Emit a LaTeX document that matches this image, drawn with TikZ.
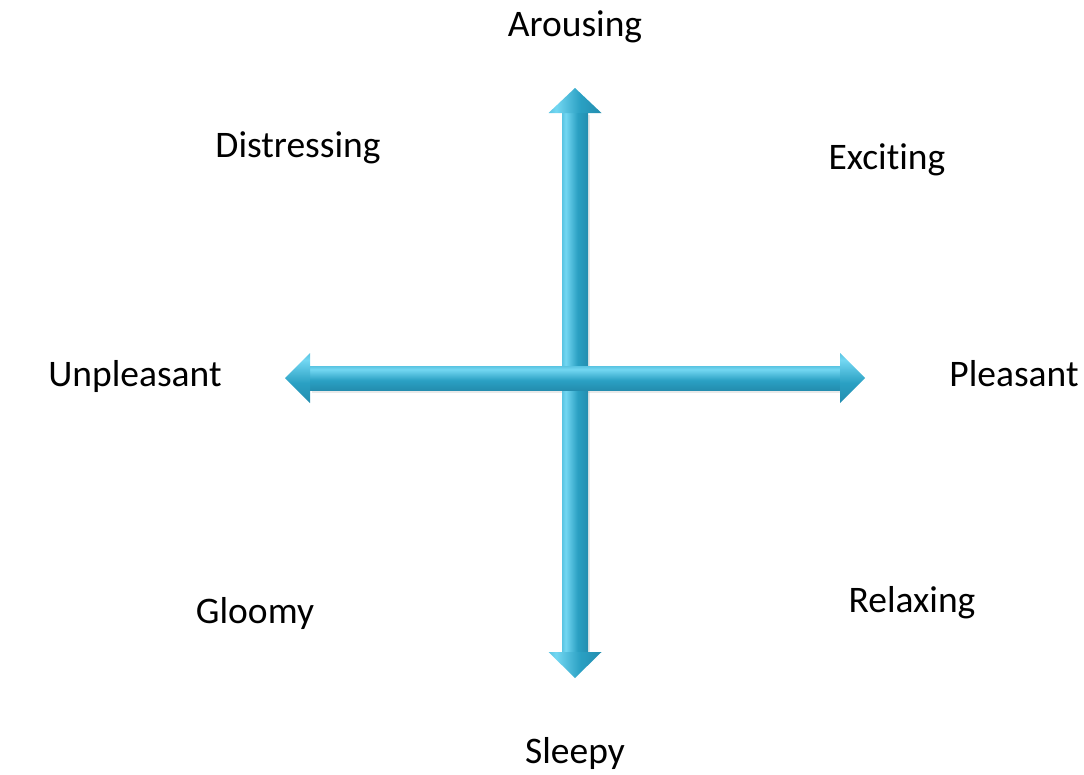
\documentclass[tikz,border=0pt]{standalone}
\usepackage{fontspec}
\setmainfont{Carlito}[Ligatures=NoCommon]
\usetikzlibrary{calc}
\definecolor{ashdark}{RGB}{18,88,115}
\definecolor{ashmid}{RGB}{42,160,195}
\definecolor{ashmid2}{RGB}{32,132,165}
\definecolor{ashlight}{RGB}{115,215,242}
\pgfdeclarehorizontalshading{vshaft}{100bp}{
  color(0bp)=(ashdark); color(12bp)=(ashmid); color(32bp)=(ashlight);
  color(55bp)=(ashmid); color(85bp)=(ashmid2); color(100bp)=(ashdark)}
\pgfdeclareverticalshading{hshaft}{100bp}{
  color(0bp)=(ashdark); color(15bp)=(ashmid2); color(45bp)=(ashmid);
  color(68bp)=(ashlight); color(88bp)=(ashmid); color(100bp)=(ashdark)}
\tikzset{
  lbl/.style={font=\fontsize{37.5}{45}\selectfont, anchor=base, inner sep=0pt},
  vpart/.style={shading=vshaft},
  hpart/.style={shading=hshaft},
  shadowpart/.style={fill=black!35, opacity=0.25}
}
\begin{document}
\begin{tikzpicture}[x=1pt,y=-1pt]
\useasboundingbox (0,0) rectangle (1084,774);
% labels
\node[lbl] (arousing) at (575,36) {Arousing};
\node[lbl] (distressing) at (298,157) {Distressing};
\node[lbl] (exciting) at (887,169) {Excit\kern0pt ing};
\node[lbl] (unpleasant) at (135,386) {Unpleasant};
\node[lbl] (pleasant) at (1014,386) {Pleasant};
\node[lbl] (gloomy) at (255,623) {Gloomy};
\node[lbl] (relaxing) at (912,612) {Relaxing};
\node[lbl] (sleepy) at (575,763) {Sleepy};
% arrow tips
\coordinate (vt) at (575,88);
\coordinate (vb) at (575,678);
\coordinate (hl) at (285,378);
\coordinate (hr) at (865,378);
% shadows
\fill[shadowpart] ($(vt)+(-12,27)$) rectangle ($(vb)+(15,-22)$);
\fill[shadowpart] ($(hl)+(27,-10)$) rectangle ($(hr)+(-22,15)$);
% vertical arrow
\path[vpart] ($(vt)+(-13,24)$) rectangle ($(vb)+(13,-24)$);
\path[vpart] (vt) -- ($(vt)+(-26.5,25)$) -- ($(vt)+(26.5,25)$) -- cycle;
\path[vpart] (vb) -- ($(vb)+(-26.5,-26)$) -- ($(vb)+(26.5,-26)$) -- cycle;
% horizontal arrow
\path[hpart] ($(hl)+(24,-12)$) rectangle ($(hr)+(-24,12)$);
\path[hpart] (hl) -- ($(hl)+(25,-25)$) -- ($(hl)+(25,25)$) -- cycle;
\path[hpart] (hr) -- ($(hr)+(-25,-25)$) -- ($(hr)+(-25,25)$) -- cycle;
\end{tikzpicture}
\end{document}
